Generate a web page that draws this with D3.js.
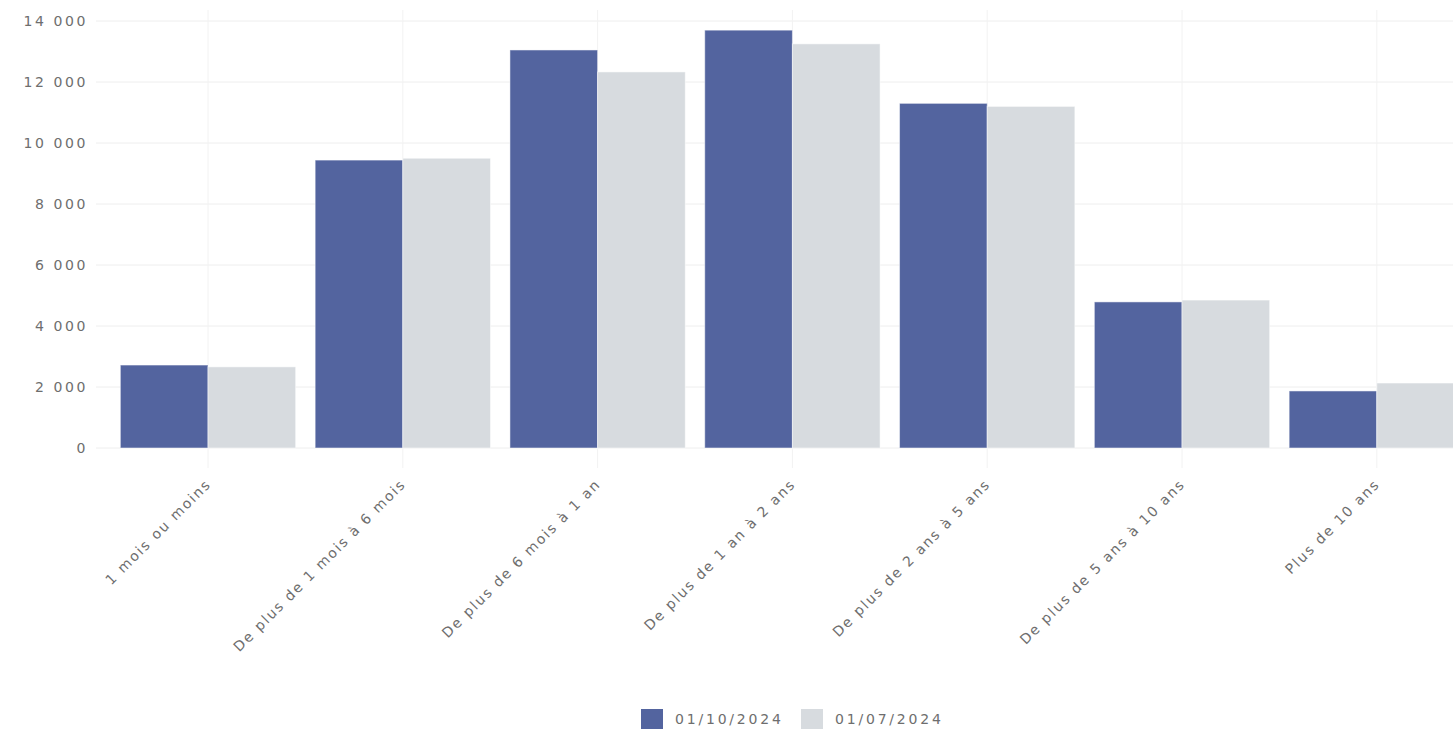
<!DOCTYPE html>
<html lang="fr">
<head>
    <meta charset="UTF-8">
    <title>Ancienneté</title>
    <script src="https://d3js.org/d3.v7.min.js"></script>
    <style>
        body { margin: 0; background: #fff; }
        text { font-family: "DejaVu Sans", sans-serif; fill: #6e6e6e; }
    </style>
</head>
<body>
    <script>
        // catégories et séries
        var categories = [
            "1 mois ou moins",
            "De plus de 1 mois à 6 mois",
            "De plus de 6 mois à 1 an",
            "De plus de 1 an à 2 ans",
            "De plus de 2 ans à 5 ans",
            "De plus de 5 ans à 10 ans",
            "Plus de 10 ans"
        ];
        var seriesNames = ["01/10/2024", "01/07/2024"];
        var oct2024 = [2720, 9440, 13050, 13700, 11300, 4790, 1870];
        var jul2024 = [2660, 9500, 12330, 13250, 11200, 4850, 2130];
        var yTicks = [0, 2000, 4000, 6000, 8000, 10000, 12000, 14000];
        var colors = ["#53649f", "#d7dbdf"];

        var width = 1453, height = 730;

        var svg = d3.select("body").append("svg")
            .attr("width", width)
            .attr("height", height);

        var x = d3.scaleBand()
            .domain(categories)
            .range([110.6, 1474.2])
            .paddingInner(0.1)
            .paddingOuter(0.05);

        var xs = d3.scaleBand()
            .domain(seriesNames)
            .range([0, x.bandwidth()]);

        var y = d3.scaleLinear()
            .domain([0, 14000])
            .range([448, 21]);

        var fmt = d3.formatLocale({ decimal: ",", thousands: " ", grouping: [3], currency: ["", " €"] }).format(",d");

        // grilles
        svg.append("g")
            .selectAll("line")
            .data(yTicks)
            .enter().append("line")
            .attr("x1", 96).attr("x2", width)
            .attr("y1", function(d) { return y(d); })
            .attr("y2", function(d) { return y(d); })
            .attr("stroke", "#eeeeee")
            .attr("stroke-width", 1);

        svg.append("g")
            .selectAll("line")
            .data(categories)
            .enter().append("line")
            .attr("x1", function(d) { return x(d) + x.bandwidth() / 2; })
            .attr("x2", function(d) { return x(d) + x.bandwidth() / 2; })
            .attr("y1", 10).attr("y2", 468)
            .attr("stroke", "#f2f2f2")
            .attr("stroke-width", 1);

        // axe y
        var yAxis = svg.append("g")
            .attr("transform", "translate(88,0)")
            .call(d3.axisLeft(y).tickValues(yTicks).tickFormat(fmt).tickSize(0).tickPadding(0));
        yAxis.select(".domain").remove();
        yAxis.selectAll("text")
            .style("font-size", "14px")
            .style("letter-spacing", "2.6px")
            .style("font-family", "\"DejaVu Sans\", sans-serif")
            .style("fill", "#6e6e6e");

        // barres
        var data = categories.map(function(c, i) {
            return { cat: c, values: [
                { name: seriesNames[0], value: oct2024[i] },
                { name: seriesNames[1], value: jul2024[i] }
            ] };
        });

        var groups = svg.append("g")
            .selectAll("g")
            .data(data)
            .enter().append("g")
            .attr("transform", function(d) { return "translate(" + x(d.cat) + ",0)"; });

        groups.selectAll("rect")
            .data(function(d) { return d.values; })
            .enter().append("rect")
            .attr("x", function(d) { return xs(d.name); })
            .attr("width", xs.bandwidth())
            .attr("y", function(d) { return y(d.value); })
            .attr("height", function(d) { return y(0) - y(d.value); })
            .attr("fill", function(d, i) { return colors[i]; })
            .attr("stroke", "rgba(255,255,255,0.5)")
            .attr("stroke-width", 1);

        // libellés x
        svg.append("g")
            .selectAll("text")
            .data(categories)
            .enter().append("text")
            .attr("transform", function(d) {
                return "translate(" + (x(d) + x.bandwidth() / 2 + 4) + ",485) rotate(-45)";
            })
            .attr("text-anchor", "end")
            .style("font-size", "14px")
            .style("letter-spacing", "1.8px")
            .text(function(d) { return d; });

        // légende
        var legendX = [641, 801];
        var legend = svg.append("g")
            .selectAll("g")
            .data(seriesNames)
            .enter().append("g")
            .attr("transform", function(d, i) { return "translate(" + legendX[i] + ",709)"; });

        legend.append("rect")
            .attr("width", 22).attr("height", 20)
            .attr("fill", function(d, i) { return colors[i]; });

        legend.append("text")
            .attr("x", 34).attr("y", 15)
            .style("font-size", "14px")
            .style("letter-spacing", "2.8px")
            .text(function(d) { return d; });
    </script>
</body>
</html>
